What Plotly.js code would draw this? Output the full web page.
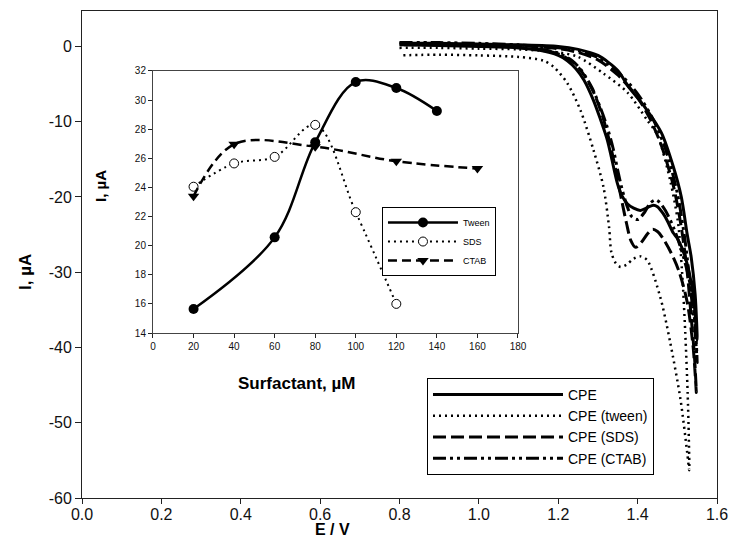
<!DOCTYPE html>
<html>
<head>
<meta charset="utf-8">
<script src="https://cdn.plot.ly/plotly-3.0.1.min.js"></script>
<style>html,body{margin:0;padding:0;background:#fff;}#chart{width:732px;height:539px;}</style>
</head>
<body>
<div id="chart"></div>
<script>
// ---------- Main chart: cyclic voltammograms (E / V vs I, uA) ----------
const seriesNames = ["CPE", "CPE (tween)", "CPE (SDS)", "CPE (CTAB)"];

const cpeE = [0.80,0.90,1.00,1.10,1.20,1.25,1.30,1.35,1.375,1.42,1.46,1.49,1.51,1.525,1.535,1.545,1.55,
              1.54,1.52,1.50,1.49,1.475,1.464,1.45,1.44,1.425,1.407,1.39,1.374,1.36,1.349,1.335,1.324,1.305,1.289,1.265,1.245,1.223,1.20,1.15,1.10,1.00,0.90,0.80];
const cpeI = [0.4,0.4,0.3,0.2,0.0,-0.4,-1.2,-3.2,-5.2,-8.2,-11.5,-16,-20,-25,-28,-33,-39,
              -33,-28,-25.5,-24.8,-23.2,-22.2,-21.3,-21.1,-21.4,-21.8,-21.5,-20.9,-19.8,-18.2,-15,-12.5,-9.5,-7.2,-4.5,-3,-1.9,-1.2,-0.5,-0.2,0.0,0.1,0.2];

const tweenE = [0.80,0.90,1.00,1.10,1.20,1.25,1.314,1.374,1.424,1.45,1.482,1.502,1.512,1.52,1.526,1.529,1.53,
                1.525,1.508,1.482,1.457,1.424,1.407,1.39,1.372,1.357,1.345,1.334,1.328,1.314,1.289,1.256,1.223,1.19,1.163,1.10,1.00,0.90,0.80];
const tweenI = [-0.2,-0.2,-0.3,-0.4,-0.8,-1.4,-3.6,-6.1,-9.8,-11.8,-17.8,-23.5,-30,-38,-46,-52,-56.3,
                -54,-46.9,-39.3,-33.3,-28.4,-27.9,-28.2,-29,-29.3,-28.8,-27.4,-24,-18.7,-13.8,-8.5,-4.9,-2.8,-1.9,-1.4,-1.2,-1.1,-1.2];

const sdsE = [0.80,0.90,1.00,1.10,1.20,1.25,1.30,1.35,1.40,1.43,1.46,1.49,1.51,1.525,1.535,1.543,1.548,
              1.54,1.525,1.505,1.485,1.465,1.45,1.438,1.425,1.41,1.395,1.383,1.372,1.36,1.345,1.33,1.31,1.29,1.265,1.24,1.20,1.15,1.10,1.00,0.90,0.80];
const sdsI = [0.3,0.3,0.2,0.1,-0.3,-0.8,-1.8,-3.8,-6.8,-9.5,-13.2,-18.5,-24,-30,-36,-41,-46,
              -40,-34,-30,-27.5,-25.6,-24.6,-24.3,-24.9,-26,-26.7,-25.8,-23.5,-20.5,-16.5,-12.8,-9,-6.2,-3.8,-2.2,-1.0,-0.4,-0.1,0.1,0.2,0.2];

const ctabE = [0.80,0.90,1.00,1.10,1.20,1.25,1.30,1.35,1.40,1.44,1.47,1.50,1.52,1.535,1.545,1.55,
               1.545,1.53,1.51,1.49,1.47,1.455,1.445,1.432,1.418,1.40,1.385,1.372,1.36,1.35,1.338,1.322,1.305,1.285,1.26,1.235,1.20,1.15,1.10,1.00,0.90,0.80];
const ctabI = [0.5,0.5,0.4,0.2,-0.2,-0.6,-1.5,-3.4,-6.3,-9.8,-13.6,-19.5,-26,-33,-38,-42,
               -37,-31,-27,-24,-21.8,-20.7,-20.4,-20.8,-22,-23,-22.6,-21,-18.8,-16.5,-13.5,-10.5,-8,-5.5,-3.3,-1.9,-0.9,-0.3,0.0,0.2,0.3,0.3];

const mainYTickVals = [-60,-50,-40,-30,-20,-10,0];
const mainYTickText = ["-60","-50","-40","-30","-20","-10","0"];

// ---------- Inset: current vs surfactant concentration ----------
const insetNames = ["Tween", "SDS", "CTAB"];
const tweenConc = [20,60,80,100,120,140];
const tweenCur  = [15.65,20.57,27.1,31.25,30.83,29.25];
const sdsConc   = [20,40,60,80,100,120];
const sdsCur    = [24.05,25.65,26.1,28.3,22.3,16.0];
const ctabConc  = [20,40,80,120,160];
const ctabCur   = [23.4,26.97,26.8,25.8,25.3];

const FONT = 'Arial, "Liberation Sans", sans-serif';

const mainTraces = [
  {x: cpeE, y: cpeI, name: seriesNames[0], line: {color:'#000', width:3, dash:'solid', shape:'spline', smoothing:0.8}},
  {x: tweenE, y: tweenI, name: seriesNames[1], line: {color:'#000', width:2.5, dash:'2px,4px', shape:'spline', smoothing:0.8}},
  {x: sdsE, y: sdsI, name: seriesNames[2], line: {color:'#000', width:3, dash:'13px,5px', shape:'spline', smoothing:0.8}},
  {x: ctabE, y: ctabI, name: seriesNames[3], line: {color:'#000', width:3, dash:'13px,4px,3px,4px,3px,4px', shape:'spline', smoothing:0.8}}
].map(t => Object.assign({type:'scatter', mode:'lines', xaxis:'x', yaxis:'y', legend:'legend'}, t));

const insetTraces = [
  {x: tweenConc, y: tweenCur, name: insetNames[0], line:{color:'#000', width:2.5, shape:'spline', smoothing:1},
   marker:{symbol:'circle', size:10, color:'#000'}},
  {x: sdsConc, y: sdsCur, name: insetNames[1], line:{color:'#000', width:2, dash:'2px,4px', shape:'spline', smoothing:1},
   marker:{symbol:'circle', size:9, color:'#fff', line:{color:'#000', width:1}}},
  {x: ctabConc, y: ctabCur, name: insetNames[2], line:{color:'#000', width:2.5, dash:'9px,5px', shape:'spline', smoothing:1},
   marker:{symbol:'triangle-down', size:10, color:'#000'}}
].map(t => Object.assign({type:'scatter', mode:'lines+markers', xaxis:'x2', yaxis:'y2', legend:'legend2'}, t));

const axisCommon = {showgrid:false, zeroline:false, showline:true, mirror:true, linecolor:'#222', linewidth:1,
                    ticks:'outside', tickcolor:'#222', tickwidth:1};

const layout = {
  width:732, height:539,
  margin:{l:82, r:15, t:11, b:41, pad:0},
  paper_bgcolor:'#fff', plot_bgcolor:'#fff',
  font:{family:FONT, color:'#000'},
  showlegend:true,
  xaxis: Object.assign({}, axisCommon, {domain:[0,1], anchor:'y', range:[0,1.6], tick0:0, dtick:0.2, tickformat:'.1f',
          ticklen:5, ticklabelstandoff:-3, tickfont:{size:16, color:'#111'}}),
  yaxis: Object.assign({}, axisCommon, {domain:[0,1], anchor:'x', range:[-60,4.7], tickmode:'array',
          tickvals:mainYTickVals, ticktext:mainYTickText, ticklen:6, tickfont:{size:16, color:'#111'}}),
  xaxis2: Object.assign({}, axisCommon, {domain:[0.1118,0.6866], anchor:'y2', range:[0,180], tick0:0, dtick:20,
          ticklen:4, tickfont:{size:10, color:'#111'}, linecolor:'#444'}),
  yaxis2: Object.assign({}, axisCommon, {domain:[0.3388,0.8768], anchor:'x2', range:[14,32], tick0:14, dtick:2,
          ticklen:4, tickfont:{size:10, color:'#111'}, linecolor:'#444'}),
  legend:{x:0.5433, y:0.2464, xanchor:'left', yanchor:'top', bgcolor:'#fff', bordercolor:'#000', borderwidth:1,
          font:{size:14, family:FONT}, itemwidth:130, tracegroupgap:0},
  legend2:{x:0.4724, y:0.5975, xanchor:'left', yanchor:'top', bgcolor:'#fff', bordercolor:'#000', borderwidth:1,
          font:{size:9, family:FONT}, itemwidth:70, tracegroupgap:0},
  annotations:[
    {text:'<b>E / V</b>', xref:'paper', yref:'paper', x:(332-82)/635, y:(498-539)/487, xanchor:'center', yanchor:'bottom',
     showarrow:false, font:{size:16, family:FONT}, borderpad:0},
    {text:'<b>I, µA</b>', xref:'paper', yref:'paper', x:-0.0898, y:0.464, xanchor:'center', yanchor:'middle',
     textangle:-90, showarrow:false, font:{size:17, family:FONT}},
    {text:'<b>Surfactant, µM</b>', xref:'paper', yref:'paper', x:(296-82)/635, y:(498-383)/487, xanchor:'center', yanchor:'middle',
     showarrow:false, font:{size:17, family:FONT}},
    {text:'<b>I, µA</b>', xref:'paper', yref:'paper', x:(100-82)/635, y:(498-186)/487, xanchor:'center', yanchor:'middle',
     textangle:-90, showarrow:false, font:{size:15, family:FONT}}
  ]
};

Plotly.newPlot('chart', mainTraces.concat(insetTraces), layout, {displayModeBar:false, staticPlot:true});
</script>
</body>
</html>
